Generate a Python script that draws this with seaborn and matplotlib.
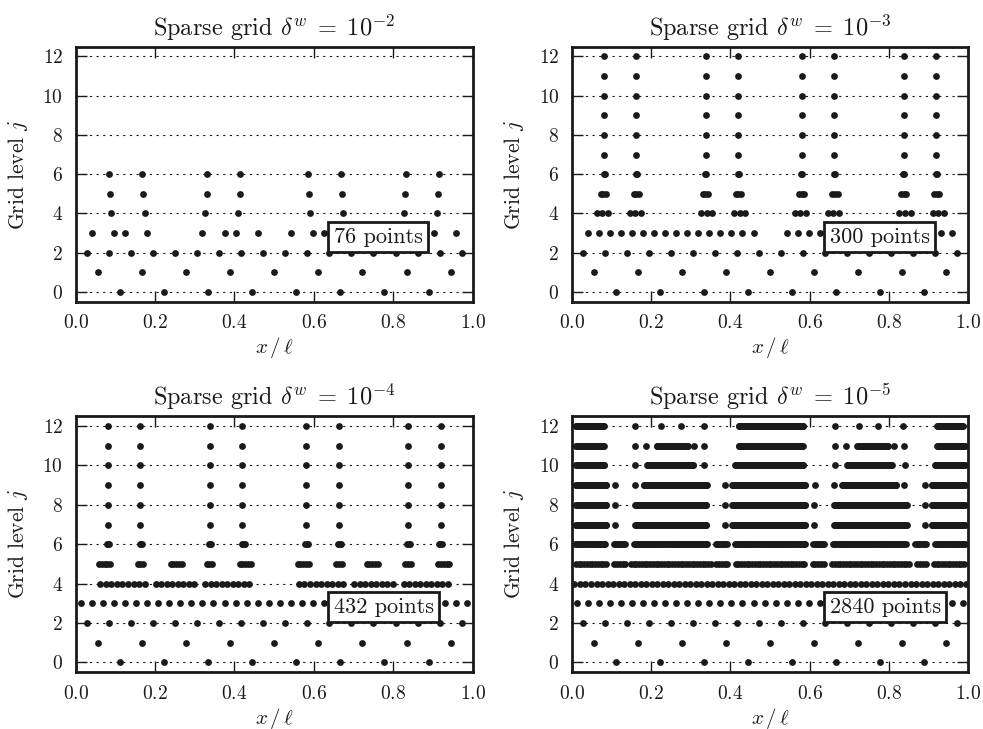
import numpy as np
import pandas as pd
import seaborn as sns
import matplotlib.pyplot as plt

# Niveaux et graduations
levels = list(range(13))
x_ticks = [0.0, 0.2, 0.4, 0.6, 0.8, 1.0]
y_ticks = [0, 2, 4, 6, 8, 10, 12]
thresholds = ["10^{-2}", "10^{-3}", "10^{-4}", "10^{-5}"]
point_counts = [76, 300, 432, 2840]

# Noeuds actifs par niveau:
# un float = un noeud isole, un tuple (a, b) = une suite de noeuds voisins
FULL = [(0.0, 1.0)]

grid_d2 = {
    0: FULL, 1: FULL, 2: FULL,
    3: [0.042, 0.097, 0.125, 0.181, 0.319, 0.375, 0.403, 0.458,
        0.542, 0.597, 0.625, 0.681, 0.819, 0.875, 0.903, 0.958],
    4: [0.090, 0.174, 0.326, 0.410, 0.590, 0.674, 0.826, 0.910],
    5: [0.087, 0.170, 0.330, 0.413, 0.587, 0.670, 0.830, 0.913],
    6: [0.085, 0.168, 0.332, 0.415, 0.585, 0.668, 0.832, 0.915],
}

cols_hi = [0.081, 0.162, 0.338, 0.420, 0.580, 0.662, 0.838, 0.919]

grid_d3 = {
    0: FULL, 1: FULL, 2: FULL,
    3: [(0.04, 0.46), (0.54, 0.96)],
    4: [(0.0625, 0.0903), (0.146, 0.174), (0.326, 0.354), (0.410, 0.4375),
        (0.5625, 0.590), (0.646, 0.674), (0.826, 0.854), (0.910, 0.9375)],
    5: [(0.073, 0.087), (0.156, 0.170), (0.330, 0.344), (0.413, 0.427),
        (0.573, 0.587), (0.656, 0.670), (0.830, 0.844), (0.913, 0.927)],
    6: [(0.080, 0.084), (0.161, 0.165), (0.336, 0.340), (0.418, 0.422),
        (0.578, 0.582), (0.660, 0.664), (0.835, 0.839), (0.917, 0.921)],
    7: cols_hi, 8: cols_hi, 9: cols_hi, 10: cols_hi, 11: cols_hi, 12: cols_hi,
}

grid_d4 = {
    0: FULL, 1: FULL, 2: FULL, 3: FULL,
    4: [(0.0625, 0.1736), (0.2014, 0.2986), (0.326, 0.4375),
        (0.5625, 0.674), (0.701, 0.799), (0.826, 0.9375)],
    5: [(0.059, 0.087), (0.156, 0.170), (0.240, 0.267), (0.330, 0.344),
        (0.413, 0.441), (0.559, 0.587), (0.656, 0.670), (0.733, 0.760),
        (0.830, 0.844), (0.913, 0.941)],
    6: [(0.078, 0.085), (0.160, 0.167), (0.334, 0.341), (0.418, 0.425),
        (0.579, 0.586), (0.660, 0.667), (0.834, 0.841), (0.916, 0.923)],
    7: cols_hi, 8: cols_hi, 9: cols_hi, 10: cols_hi, 11: cols_hi, 12: cols_hi,
}

grid_d5 = {
    0: FULL, 1: FULL, 2: FULL, 3: FULL, 4: FULL,
    5: [(0.009, 0.086), (0.108, 0.134), (0.152, 0.348), (0.366, 0.390),
        (0.411, 0.587), (0.608, 0.638), (0.654, 0.852), (0.870, 0.893),
        (0.912, 0.990)],
    6: [(0.009, 0.086), (0.106, 0.134), (0.158, 0.341), (0.364, 0.390),
        (0.410, 0.590), (0.610, 0.636), (0.659, 0.842), (0.866, 0.894),
        (0.914, 0.991)],
    7: [(0.009, 0.088), 0.110, (0.161, 0.340), 0.387, (0.404, 0.590),
        0.611, (0.663, 0.844), 0.891, (0.907, 0.990)],
    8: [(0.009, 0.088), 0.110, (0.161, 0.340), 0.387, (0.404, 0.590),
        0.611, (0.663, 0.844), 0.891, (0.907, 0.990)],
    9: [(0.009, 0.088), 0.110, 0.160, (0.182, 0.341), 0.387, (0.404, 0.590),
        0.614, 0.662, (0.682, 0.818), 0.838, 0.891, (0.907, 0.990)],
    10: [(0.009, 0.083), 0.160, (0.190, 0.306), 0.334, (0.413, 0.585),
         0.664, (0.694, 0.806), 0.840, (0.916, 0.990)],
    11: [(0.009, 0.081), 0.160, 0.187, (0.215, 0.293), 0.309, 0.334,
         (0.421, 0.582), 0.664, 0.691, (0.719, 0.797), 0.813, 0.838,
         (0.921, 0.990)],
    12: [(0.009, 0.081), 0.160, 0.225, 0.275, 0.334, (0.421, 0.585),
         0.664, 0.723, 0.773, 0.834, (0.921, 0.986)],
}

grids = [grid_d2, grid_d3, grid_d4, grid_d5]


def noeuds_actifs(level, runs):
    # noeuds du niveau : k/9 au niveau 0, (2k+1)/(9*2^j) ensuite
    # (au-dela du niveau 7 les noeuds sont plus fins qu'un pixel)
    lat = min(level, 7)
    if lat == 0:
        nodes = np.arange(1, 9) / 9
        h = 1 / 18
    else:
        denom = 9 * 2 ** lat
        nodes = np.arange(1, denom, 2) / denom
        h = 1 / denom
    keep = np.zeros(len(nodes), dtype=bool)
    for r in runs:
        a, b = (r, r) if np.isscalar(r) else r
        keep |= (nodes >= a - h) & (nodes < b + h)
    return nodes[keep]


rows = []
for i, g in enumerate(grids):
    for lev, runs in g.items():
        for x in noeuds_actifs(lev, runs):
            rows.append({"panel": i, "level": lev, "x": x})
df = pd.DataFrame(rows)

# Style
sns.set_theme(style="ticks")
plt.rcParams["font.family"] = ["cmr10", "DejaVu Serif"]
plt.rcParams["mathtext.fontset"] = "cm"
plt.rcParams["axes.formatter.use_mathtext"] = True
plt.rcParams["axes.unicode_minus"] = False

fig = plt.figure(figsize=(9.83, 7.29), dpi=100)
positions = [
    [0.0769, 0.586, 0.404, 0.350],
    [0.5816, 0.586, 0.4035, 0.350],
    [0.0769, 0.078, 0.404, 0.351],
    [0.5816, 0.078, 0.4035, 0.351],
]

for i, pos in enumerate(positions):
    ax = fig.add_axes(pos)
    sub = df[df["panel"] == i]
    sns.scatterplot(data=sub, x="x", y="level", color="k", s=24,
                    linewidth=0, legend=False, ax=ax, zorder=3)
    ax.set_xlim(0, 1)
    ax.set_ylim(-0.5, 12.5)
    ax.set_xticks(x_ticks)
    ax.set_yticks(y_ticks)
    ax.yaxis.grid(True, color="k", linewidth=0.8, linestyle=(0, (2, 4)))
    ax.set_axisbelow(True)
    for sp in ax.spines.values():
        sp.set_linewidth(2)
        sp.set_color("k")
    ax.tick_params(direction="in", top=True, right=True, length=8, width=1,
                   color="k", labelsize=14, pad=9, labelcolor="k")
    ax.set_xlabel(r"$x\,/\,\ell$", fontsize=15, color="k", va="center")
    ax.xaxis.set_label_coords(0.5, -0.18)
    ax.set_ylabel(r"Grid level $j$", fontsize=15.5, color="k", va="center")
    ax.yaxis.set_label_coords(-0.146, 0.5)
    ax.set_title(r"Sparse grid $\delta^w \;=\; %s$" % thresholds[i],
                 fontsize=17.5, pad=8, color="k")
    ax.text(0.65, 2.8, f"{point_counts[i]} points", fontsize=16, ha="left",
            va="center", zorder=5, color="k",
            bbox=dict(boxstyle="square,pad=0.25", fc="w", ec="k", lw=2))

fig.savefig("out.png", dpi=100)
